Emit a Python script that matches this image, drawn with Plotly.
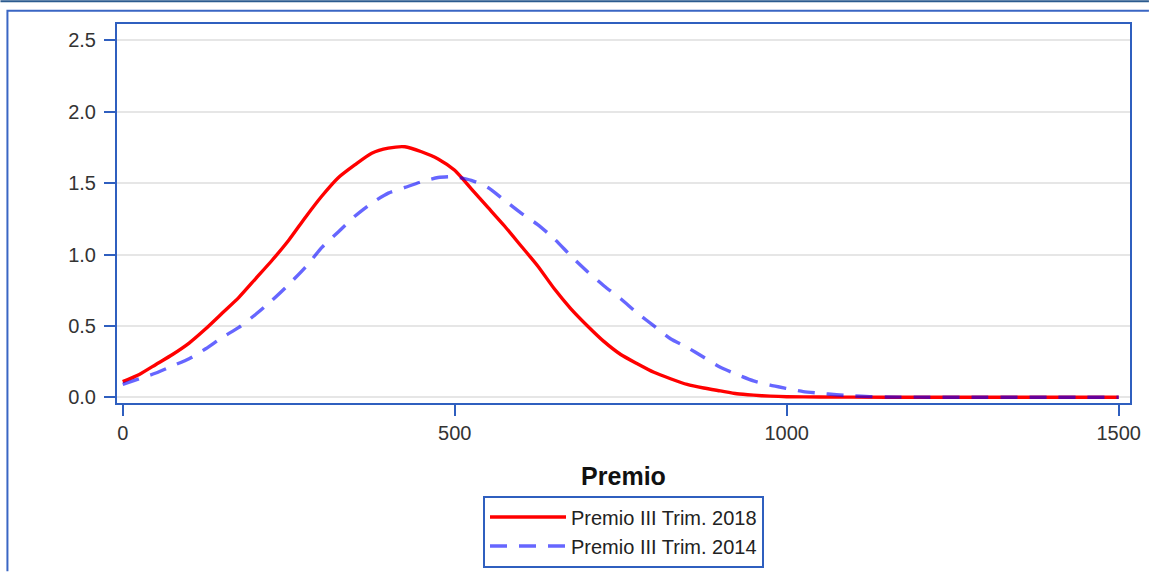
import plotly.graph_objects as go

# Premio (x) grid for both density curves
premio_2018 = [0, 25, 50, 75, 100, 125, 150, 175, 200, 225, 250, 275, 300, 325, 350, 375,
               400, 425, 450, 475, 500, 525, 550, 575, 600, 625, 650, 675, 700, 725, 750,
               775, 800, 825, 850, 875, 900, 925, 950, 975, 1000, 1050, 1100, 1200, 1300,
               1400, 1500]
dens_2018 = [0.11, 0.16, 0.23, 0.30, 0.38, 0.48, 0.59, 0.70, 0.83, 0.96, 1.10, 1.26, 1.41,
             1.54, 1.63, 1.71, 1.745, 1.755, 1.72, 1.67, 1.59, 1.46, 1.33, 1.20, 1.06, 0.92,
             0.76, 0.62, 0.50, 0.39, 0.30, 0.235, 0.175, 0.13, 0.09, 0.065, 0.045, 0.025,
             0.015, 0.008, 0.004, 0.002, 0.001, 0.0, 0.0, 0.0, 0.0]

premio_2014 = [0, 25, 50, 75, 100, 125, 150, 175, 200, 225, 250, 275, 300, 325, 350, 375,
               400, 425, 450, 475, 500, 525, 550, 575, 600, 625, 650, 675, 700, 725, 750,
               775, 800, 825, 850, 875, 900, 925, 950, 975, 1000, 1025, 1050, 1075, 1100,
               1125, 1150, 1200, 1300, 1400, 1500]
dens_2014 = [0.09, 0.13, 0.17, 0.22, 0.27, 0.34, 0.42, 0.49, 0.58, 0.68, 0.79, 0.91, 1.05,
             1.16, 1.27, 1.36, 1.43, 1.47, 1.51, 1.54, 1.545, 1.52, 1.47, 1.38, 1.29, 1.21,
             1.11, 0.99, 0.88, 0.78, 0.69, 0.59, 0.50, 0.41, 0.35, 0.28, 0.21, 0.16, 0.115,
             0.085, 0.062, 0.04, 0.028, 0.018, 0.01, 0.005, 0.002, 0.001, 0.0, 0.0, 0.0]

series_names = ["Premio III Trim. 2018", "Premio III Trim. 2014"]
x_ticks = [0, 500, 1000, 1500]
y_ticks = [0.0, 0.5, 1.0, 1.5, 2.0, 2.5]
x_title = "Premio"

AXIS_BLUE = "#2f5fbf"
FONT = "Liberation Sans, Arial, sans-serif"

fig = go.Figure()
fig.add_trace(go.Scatter(x=premio_2018, y=dens_2018, mode="lines", name=series_names[0],
                         line=dict(color="#ff0000", width=3.4, shape="spline", smoothing=0.6)))
fig.add_trace(go.Scatter(x=premio_2014, y=dens_2014, mode="lines", name=series_names[1],
                         line=dict(color="rgba(0,0,255,0.6)", width=3.4, dash="17px,12px",
                                   shape="spline", smoothing=0.6)))

W, H = 1153, 580
ml, mr, mt, mb = 117, 19, 24, 171
pw, ph = W - ml - mr, H - mt - mb

def px_x(p):
    return (p - ml) / pw

def px_y(p):
    return (H - mb - p) / ph

shapes = [
    # thin dark line across the very top of the page
    dict(type="line", xref="paper", yref="paper", x0=px_x(0), x1=px_x(W), y0=px_y(1), y1=px_y(1),
         line=dict(color="#2b5b8f", width=2)),
    # outer frame (left and top edges visible)
    dict(type="path", xref="paper", yref="paper",
         path=f"M {px_x(7)} {px_y(H)} L {px_x(7)} {px_y(10.5)} L {px_x(W)} {px_y(10.5)}",
         line=dict(color="#3a66c4", width=2)),
]

fig.update_layout(
    width=W, height=H,
    margin=dict(l=ml, r=mr, t=mt, b=mb, pad=0),
    paper_bgcolor="white", plot_bgcolor="white",
    font=dict(family=FONT, size=20, color="#333333"),
    showlegend=True,
    legend=dict(orientation="v", x=0.5, xanchor="center", y=px_y(503), yanchor="top",
                bordercolor=AXIS_BLUE, borderwidth=2, bgcolor="white",
                font=dict(family=FONT, size=20, color="#222222"),
                itemwidth=76, tracegroupgap=0),
    shapes=shapes,
    xaxis=dict(range=[-8.6, 1517], tickmode="array", tickvals=x_ticks,
               ticktext=[str(v) for v in x_ticks],
               showgrid=False, zeroline=False,
               showline=True, linecolor=AXIS_BLUE, linewidth=2, mirror=True,
               ticks="outside", ticklen=11, tickwidth=2, tickcolor=AXIS_BLUE,
               tickfont=dict(size=20, color="#333333"),
               title=dict(text=f"<b>{x_title}</b>", font=dict(size=25, color="#111111"), standoff=24)),
    yaxis=dict(range=[-0.04, 2.615], tickmode="array", tickvals=y_ticks,
               ticktext=[f"{v:.1f}" for v in y_ticks],
               showgrid=True, gridcolor="#e6e6e6", gridwidth=1.5, zeroline=False,
               showline=True, linecolor=AXIS_BLUE, linewidth=2, mirror=True,
               ticks="outside", ticklen=11, tickwidth=2, tickcolor=AXIS_BLUE,
               ticklabelstandoff=4,
               tickfont=dict(size=20, color="#333333")),
)

fig.write_html(
    "out.html",
    config={"displayModeBar": False},
    post_script=(
        "var de=document.documentElement, b=document.body;"
        "[de,b].forEach(function(e){e.style.margin='0';e.style.padding='0';"
        "e.style.overflow='hidden';e.style.width='1153px';e.style.height='580px';});"
    ),
)
